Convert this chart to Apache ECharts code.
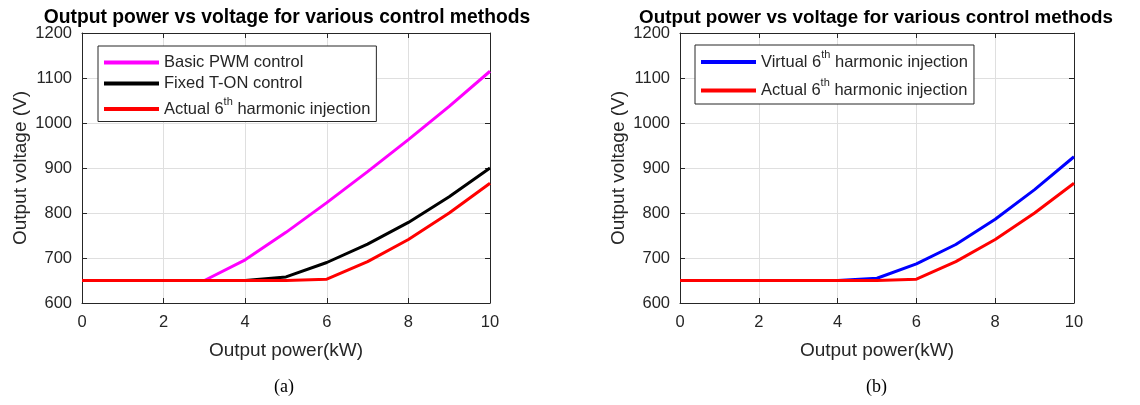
<!DOCTYPE html>
<html>
<head>
<meta charset="utf-8">
<script src="https://cdn.jsdelivr.net/npm/echarts@6/dist/echarts.min.js"></script>
<style>html,body{margin:0;padding:0;background:#fff}#c{width:1140px;height:405px}</style>
</head>
<body>
<div id="c"></div>
<script>
const power = [0,1,2,3,4,5,6,7,8,9,10];
const basicPWM = [650,650,650,650,696,757,823,892,963,1037,1115];
const fixedTon = [650,650,650,650,650,658,690,731,779,836,900];
const actual6th = [650,650,650,650,650,650,653,692,741,800,866];
const virtual6th = [650,650,650,650,650,655,687,730,786,852,925];
const xTicks = [0,2,4,6,8,10];
const yTicks = [600,700,800,900,1000,1100,1200];

const titleText = 'Output power vs voltage for various control methods';
const xName = 'Output power(kW)';
const yName = 'Output voltage (V)';
const nBasic = 'Basic PWM control';
const nFixed = 'Fixed T-ON control';
const nActual = 'Actual 6th harmonic injection';
const nVirtual = 'Virtual 6th harmonic injection';

const pairs = (ys) => power.map((x,i)=>[x, ys[i]]);
const FONT = 'Liberation Sans, Arial, Helvetica, sans-serif';
const AX = '#262626';

const grids = [
  {left:82, right:650, top:33, bottom:102},
  {left:680, right:66, top:33, bottom:102}
];

function mainX(gi){
  return {gridIndex:gi, type:'value', min:xTicks[0], max:xTicks[xTicks.length-1], interval:xTicks[1]-xTicks[0], position:'bottom',
    name:xName, nameLocation:'middle', nameGap:38,
    nameTextStyle:{fontFamily:FONT, fontSize:19, color:AX},
    axisLine:{lineStyle:{color:AX, width:1}},
    axisTick:{inside:true, length:5, lineStyle:{color:AX}},
    axisLabel:{fontFamily:FONT, fontSize:16.5, color:AX, margin:11},
    splitLine:{show:true, lineStyle:{color:'#dfdfdf', width:1}}};
}
function topX(gi){
  return {gridIndex:gi, type:'value', min:xTicks[0], max:xTicks[xTicks.length-1], interval:xTicks[1]-xTicks[0], position:'top',
    axisLine:{show:true, onZero:false, lineStyle:{color:AX, width:1}},
    axisTick:{show:true, inside:true, length:5, lineStyle:{color:AX}},
    axisLabel:{show:false}, splitLine:{show:false}};
}
function mainY(gi){
  return {gridIndex:gi, type:'value', min:yTicks[0], max:yTicks[yTicks.length-1], interval:yTicks[1]-yTicks[0], position:'left',
    name:yName, nameLocation:'middle', nameGap:52,
    nameTextStyle:{fontFamily:FONT, fontSize:19, color:AX},
    axisLine:{show:true, lineStyle:{color:AX, width:1}},
    axisTick:{show:true, inside:true, length:5, lineStyle:{color:AX}},
    axisLabel:{fontFamily:FONT, fontSize:16.5, color:AX, margin:10, formatter:(v)=>String(v)},
    splitLine:{show:true, lineStyle:{color:'#dfdfdf', width:1}}};
}
function rightY(gi){
  return {gridIndex:gi, type:'value', min:yTicks[0], max:yTicks[yTicks.length-1], interval:yTicks[1]-yTicks[0], position:'right',
    axisLine:{show:true, onZero:false, lineStyle:{color:AX, width:1}},
    axisTick:{show:true, inside:true, length:5, lineStyle:{color:AX}},
    axisLabel:{show:false}, splitLine:{show:false}};
}

function fmt(name){
  const i = name.indexOf('6th');
  if (i < 0) return '{n|' + name + '}';
  return '{n|' + name.slice(0,i) + '6}{s|th}{n|' + name.slice(i+3) + '}';
}
const legendText = {fontFamily:FONT, fontSize:16.5, color:AX,
  rich:{ n:{fontFamily:FONT, fontSize:16.5, color:AX},
         s:{fontFamily:FONT, fontSize:11, color:AX, verticalAlign:'top', lineHeight:26, padding:[0,0,0,0]} }};

function line(name, ys, color, xi, yi){
  return {type:'line', name, data:pairs(ys), xAxisIndex:xi, yAxisIndex:yi,
    showSymbol:false, symbol:'none', lineStyle:{color, width:3}, itemStyle:{color}, animation:false};
}

const option = {
  animation:false,
  backgroundColor:'#fff',
  title:[
    {text:titleText, left:282, top:3, textAlign:'center', textStyle:{fontFamily:FONT, fontSize:19.3, fontWeight:'bold', color:'#000'}},
    {text:titleText, left:871, top:3, textAlign:'center', textStyle:{fontFamily:FONT, fontSize:18.8, fontWeight:'bold', color:'#000'}}
  ],
  grid:grids,
  xAxis:[mainX(0), topX(0), mainX(1), topX(1)],
  yAxis:[mainY(0), rightY(0), mainY(1), rightY(1)],
  legend:[
    {data:[nBasic,nFixed,nActual], orient:'vertical', left:98, top:46, icon:'rect', itemWidth:55, itemHeight:4,
     itemGap:4, padding:[8,6,4,6], borderColor:AX, borderWidth:1, backgroundColor:'#fff',
     formatter:fmt, textStyle:legendText, selectedMode:false},
    {data:[nVirtual,nActual], orient:'vertical', left:695, top:45, icon:'rect', itemWidth:55, itemHeight:4,
     itemGap:7, padding:[4,6,5,6], borderColor:AX, borderWidth:1, backgroundColor:'#fff',
     formatter:fmt, textStyle:legendText, selectedMode:false}
  ],
  series:[
    line(nBasic, basicPWM, '#ff00ff', 0, 0),
    line(nFixed, fixedTon, '#000000', 0, 0),
    line(nActual, actual6th, '#ff0000', 0, 0),
    line(nVirtual, virtual6th, '#0000ff', 2, 2),
    line(nActual, actual6th, '#ff0000', 2, 2)
  ],
  graphic:[
    {type:'text', left:274, top:378, style:{text:'(a)', font:'18px "Liberation Serif", "DejaVu Serif", serif', fill:'#000'}},
    {type:'text', left:866, top:378, style:{text:'(b)', font:'18px "Liberation Serif", "DejaVu Serif", serif', fill:'#000'}}
  ]
};
const chart = echarts.init(document.getElementById('c'), null, {renderer:'canvas'});
chart.setOption(option);
</script>
</body>
</html>
